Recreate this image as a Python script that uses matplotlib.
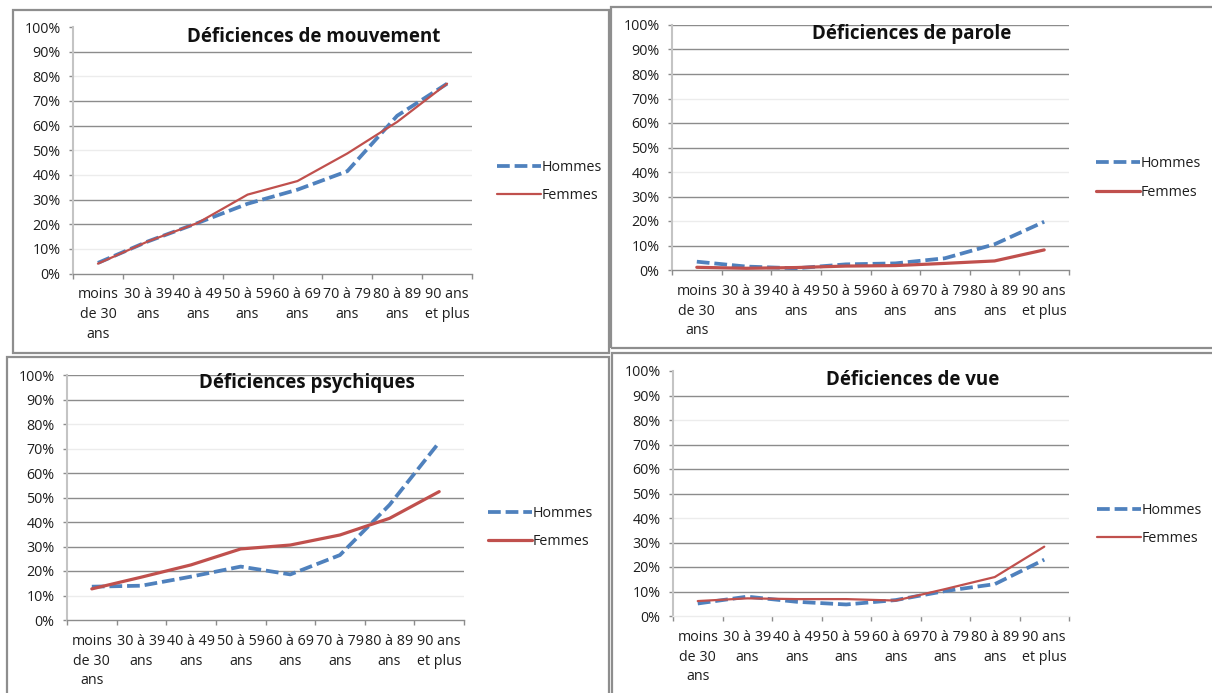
import matplotlib
matplotlib.use("Agg")
import matplotlib.pyplot as plt
from matplotlib.patches import Rectangle

# ---- data (percentage of people with each impairment, by age group) ----
age_groups = ["moins\nde 30\nans", "30 à 39\nans", "40 à 49\nans", "50 à 59\nans",
              "60 à 69\nans", "70 à 79\nans", "80 à 89\nans", "90 ans\net plus"]

mouvement_hommes = [4.3, 13.0, 20.5, 28.3, 34.0, 41.5, 64.0, 77.0]
mouvement_femmes = [4.0, 13.0, 20.5, 32.0, 37.5, 48.7, 61.5, 77.0]

parole_hommes = [3.4, 1.4, 0.7, 2.3, 2.7, 4.8, 10.5, 19.7]
parole_femmes = [1.1, 0.7, 1.0, 1.6, 1.8, 2.7, 3.7, 8.2]

psychiques_hommes = [13.6, 14.0, 17.7, 21.8, 18.6, 26.5, 47.0, 72.5]
psychiques_femmes = [12.7, 17.5, 22.5, 29.0, 30.6, 34.7, 41.5, 52.4]

vue_hommes = [5.1, 7.9, 5.8, 4.7, 6.5, 10.2, 13.0, 23.0]
vue_femmes = [6.1, 7.2, 6.9, 6.9, 6.3, 11.0, 15.9, 28.3]

titles = ["Déficiences de mouvement", "Déficiences de parole",
          "Déficiences psychiques", "Déficiences de vue"]
series_names = ["Hommes", "Femmes"]
y_ticks = list(range(0, 101, 10))

# ---- layout (pixel geometry of each chart block) ----
W, H = 1212, 693
FONT = ["Open Sans", "DejaVu Sans"]
plt.rcParams["font.family"] = FONT

BLUE = "#4F81BD"
RED = "#C0504D"
GRID = "#8c8c8c"
FAINT = "#ececec"
TEXT = "#1e1e1e"
TICK_FS = 10.3

layout = [
    dict(box=(13, 609, 9.5, 352.5), plot=(73, 472, 27, 273.5), title_xy=(314, 37),
         legend_xy=(497, 181.5), faint={10, 40, 50, 80}, hidden={100}, red_lw=1.6,
         faint_axis=False),
    dict(box=(611, 1216, 6.5, 348), plot=(672, 1069, 25, 270), title_xy=(912, 34),
         legend_xy=(1096, 178), faint={20, 40, 70}, hidden=set(), red_lw=2.3,
         faint_axis=False),
    dict(box=(7, 609, 357, 700), plot=(67, 464, 375, 620), title_xy=(307, 383),
         legend_xy=(488, 527.5), faint={10, 70, 80}, hidden=set(), red_lw=2.3,
         faint_axis=False),
    dict(box=(612, 1216, 353, 700), plot=(673, 1069, 371, 616), title_xy=(913, 380),
         legend_xy=(1097, 524.5), faint={40, 80}, hidden={100}, red_lw=1.6,
         faint_axis=True),
]
data = [
    (mouvement_hommes, mouvement_femmes),
    (parole_hommes, parole_femmes),
    (psychiques_hommes, psychiques_femmes),
    (vue_hommes, vue_femmes),
]

fig = plt.figure(figsize=(W / 100, H / 100), dpi=100)
fig.patch.set_facecolor("white")


def fx(x):
    return x / W


def fy(y):
    return 1 - y / H


for title, (hommes, femmes), spec in zip(titles, data, layout):
    # chart block border
    bx0, bx1, by0, by1 = spec["box"]
    fig.add_artist(Rectangle((fx(bx0), fy(by1)), (bx1 - bx0) / W, (by1 - by0) / H,
                             transform=fig.transFigure, fill=False,
                             edgecolor="#8e8e8e", linewidth=1.6, zorder=0))

    x0, x1, yt, yb = spec["plot"]
    ax = fig.add_axes([fx(x0), fy(yb), (x1 - x0) / W, (yb - yt) / H])
    ax.set_xlim(0, len(age_groups))
    ax.set_ylim(0, 100)

    # horizontal gridlines
    for v in y_ticks[1:]:
        if v in spec["hidden"]:
            continue
        ax.axhline(v, color=FAINT if v in spec["faint"] else GRID,
                   linewidth=1.0, zorder=1)

    xs = [i + 0.5 for i in range(len(age_groups))]
    h_line, = ax.plot(xs, hommes, color=BLUE, linewidth=2.7, linestyle=(0, (3.4, 1.3)),
                      dash_capstyle="butt", solid_joinstyle="round", zorder=3,
                      label=series_names[0])
    f_line, = ax.plot(xs, femmes, color=RED, linewidth=spec["red_lw"],
                      solid_joinstyle="round", solid_capstyle="round", zorder=4,
                      label=series_names[1])

    # axes styling
    for side in ("top", "right"):
        ax.spines[side].set_visible(False)
    ax.spines["left"].set_color("#c4c4c4")
    ax.spines["left"].set_linewidth(1.5)
    ax.spines["bottom"].set_color(FAINT if spec["faint_axis"] else GRID)
    ax.spines["bottom"].set_linewidth(1.0)

    ax.set_yticks(y_ticks)
    ax.set_yticklabels([f"{v}%" for v in y_ticks])
    ax.tick_params(axis="y", length=3, width=1, color=GRID, pad=6.0,
                   labelsize=TICK_FS, labelcolor=TEXT)

    ax.set_xticks(range(len(age_groups) + 1))
    ax.set_xticklabels([])
    ax.set_xticks(xs, minor=True)
    ax.set_xticklabels(age_groups, minor=True, linespacing=1.42)
    ax.tick_params(axis="x", which="major", length=3.5, width=1, color=GRID)
    ax.tick_params(axis="x", which="minor", length=0, pad=10,
                   labelsize=TICK_FS, labelcolor=TEXT)

    # title
    fig.text(fx(spec["title_xy"][0]), fy(spec["title_xy"][1]), title,
             ha="center", va="center", fontsize=13.5, fontweight="bold",
             color="#111111")

    # legend to the right of the plot
    lx, ly = spec["legend_xy"]
    ax.legend(handles=[h_line, f_line], loc="center left",
              bbox_to_anchor=(fx(lx), fy(ly)), bbox_transform=fig.transFigure,
              frameon=False, fontsize=TICK_FS, labelcolor=TEXT, handlelength=3.1,
              handletextpad=0.05, labelspacing=0.95, borderpad=0, borderaxespad=0)

fig.savefig("out.png", dpi=100, facecolor="white")
